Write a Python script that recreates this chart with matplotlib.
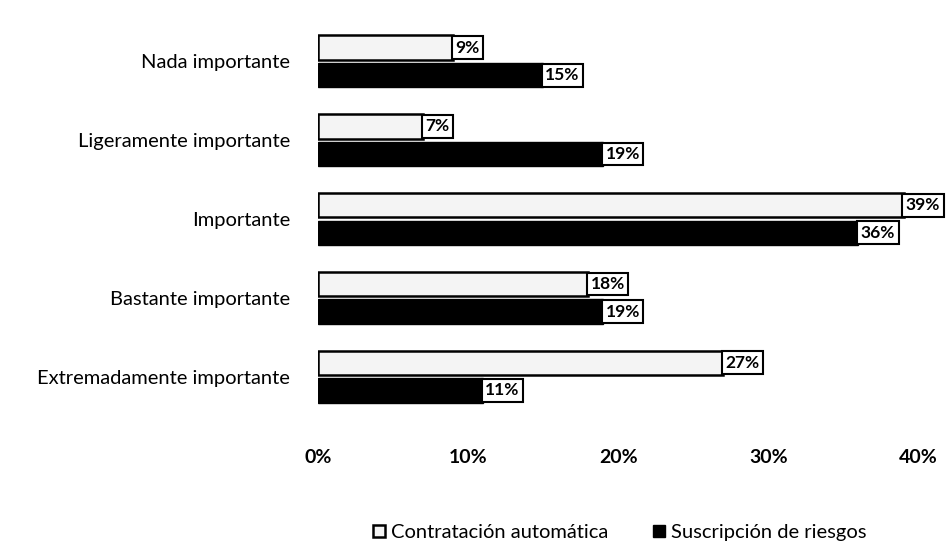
import numpy as np
import matplotlib
matplotlib.use("Agg")
import matplotlib.pyplot as plt
from matplotlib.ticker import PercentFormatter

plt.rcParams['font.family'] = ['Lato', 'DejaVu Sans']

categories = ['Nada importante', 'Ligeramente importante', 'Importante',
              'Bastante importante', 'Extremadamente importante']
contratacion = [9, 7, 39, 18, 27]
suscripcion = [15, 19, 36, 19, 11]
series_names = ['Contratación automática', 'Suscripción de riesgos']
xticks = [0, 10, 20, 30, 40]

fig = plt.figure(figsize=(9.46, 5.51), dpi=100)
ax = fig.add_axes([0.336, 0.245, 0.635, 0.715])

y = np.arange(len(categories))
h = 0.31
off = 0.175
b1 = ax.barh(y - off, contratacion, height=h, color='#f4f4f4', edgecolor='black',
             linewidth=1.8, label=series_names[0])
b2 = ax.barh(y + off, suscripcion, height=h, color='black', edgecolor='black',
             linewidth=1.0, label=series_names[1])

box = dict(boxstyle='square,pad=0.2', facecolor='white', edgecolor='black', linewidth=1.5)
for yi, v in zip(y - off, contratacion):
    ax.text(v + 0.15, yi, f'{v}%', va='center', ha='left', fontsize=12.5,
            fontweight='bold', bbox=box, clip_on=False)
for yi, v in zip(y + off, suscripcion):
    ax.text(v + 0.15, yi, f'{v}%', va='center', ha='left', fontsize=12.5,
            fontweight='bold', bbox=box, clip_on=False)

ax.set_xlim(0, 40)
ax.set_ylim(len(categories) - 0.5, -0.5)
ax.set_xticks(xticks)
ax.xaxis.set_major_formatter(PercentFormatter(decimals=0))
ax.set_yticks(y)
ax.set_yticklabels(categories, fontsize=14.5)
ax.tick_params(axis='x', labelsize=14, length=0, pad=24)
ax.tick_params(axis='y', length=0, pad=20)
for s in ax.spines.values():
    s.set_visible(False)
for lab in ax.get_xticklabels():
    lab.set_fontweight('bold')

fig.legend(handles=[b1, b2], labels=series_names, loc='lower center',
           bbox_to_anchor=(0.655, -0.015), ncol=2, frameon=False, fontsize=14.5,
           handlelength=0.6, handleheight=0.6, columnspacing=2.2, handletextpad=0.3)

fig.savefig('out.png', dpi=100)
